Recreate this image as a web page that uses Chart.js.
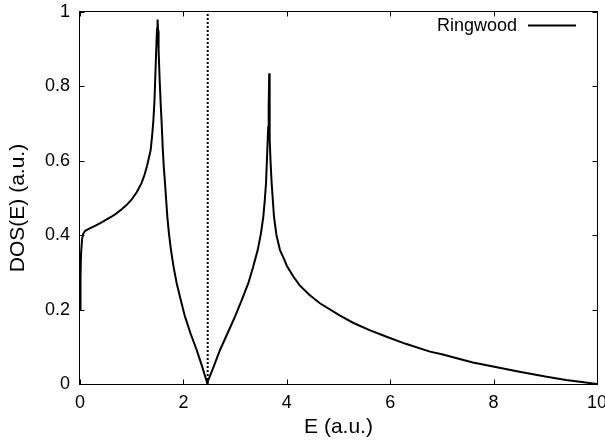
<!DOCTYPE html>
<html><head><meta charset="utf-8">
<script src="https://cdn.jsdelivr.net/npm/chart.js@4/dist/chart.umd.min.js"></script>
<style>html,body{margin:0;padding:0;background:#fff;}#wrap{width:605px;height:441px;}</style>
</head><body><div id="wrap"><canvas id="c" width="605" height="441"></canvas></div>
<script>
const energy = [0.00,0.01,0.02,0.04,0.06,0.10,0.20,0.30,0.40,0.50,0.60,0.70,0.80,0.90,1.00,1.10,1.19,1.25,1.30,1.367,1.40,1.42,1.44,1.46,1.48,1.49,1.50,1.51,1.52,1.54,1.56,1.58,1.60,1.62,1.644,1.689,1.72,1.76,1.81,1.87,1.95,2.031,2.14,2.257,2.36,2.46,2.58,2.708,2.85,2.998,3.13,3.256,3.35,3.437,3.50,3.546,3.575,3.598,3.623,3.64,3.65,3.66,3.665,3.672,3.685,3.707,3.752,3.80,3.868,3.95,4.00,4.126,4.25,4.435,4.64,5.03,5.29,5.60,5.93,6.30,6.77,7.00,7.29,7.60,7.99,8.50,9.00,9.40,9.67,10.0];
const dos = [0.20,0.29,0.35,0.39,0.403,0.412,0.419,0.426,0.433,0.441,0.449,0.458,0.469,0.481,0.496,0.516,0.540,0.563,0.588,0.629,0.675,0.71,0.76,0.84,0.92,0.955,0.98,0.95,0.90,0.82,0.755,0.70,0.635,0.585,0.54,0.45,0.405,0.36,0.315,0.271,0.225,0.181,0.135,0.0914,0.048,0.003,0.045,0.0914,0.135,0.181,0.226,0.271,0.315,0.36,0.405,0.45,0.495,0.54,0.629,0.69,0.75,0.835,0.75,0.66,0.60,0.54,0.45,0.40,0.36,0.335,0.318,0.289,0.265,0.240,0.217,0.184,0.164,0.145,0.127,0.108,0.087,0.080,0.069,0.058,0.047,0.033,0.020,0.011,0.006,0.0];
const fermiX = [2.47, 2.47];
const fermiY = [0, 1];
const xTickValues = [0, 2, 4, 6, 8, 10];
const xTickLabels = ['0', '2', '4', '6', '8', '10'];
const yTickValues = [0, 0.2, 0.4, 0.6, 0.8, 1];
const yTickLabels = ['0', '0.2', '0.4', '0.6', '0.8', '1'];
const seriesLabel = 'Ringwood';
const xTitle = 'E (a.u.)';
const yTitle = 'DOS(E) (a.u.)';

const FONT = "'Liberation Sans', Arial, Helvetica, sans-serif";

const framePlugin = {
  id: 'frame',
  afterDatasetsDraw(chart) {
    const { ctx, chartArea: a, scales: { x, y } } = chart;
    ctx.save();
    ctx.strokeStyle = '#000';
    ctx.lineWidth = 1;
    const L = Math.round(a.left) - 0.5, R = Math.round(a.right) + 0.5;
    const T = Math.round(a.top) - 0.5, B = Math.round(a.bottom) + 0.5;
    ctx.strokeRect(L, T, R - L, B - T);
    ctx.beginPath();
    const tl = 5;
    xTickValues.forEach(v => {
      const px = Math.round(x.getPixelForValue(v)) + 0.5;
      ctx.moveTo(px, B); ctx.lineTo(px, B - tl);
      ctx.moveTo(px, T); ctx.lineTo(px, T + tl);
    });
    yTickValues.forEach(v => {
      const py = Math.round(y.getPixelForValue(v)) + 0.5;
      ctx.moveTo(L, py); ctx.lineTo(L + tl, py);
      ctx.moveTo(R, py); ctx.lineTo(R - tl, py);
    });
    ctx.stroke();
    ctx.restore();
  },
  afterDraw(chart) {
    const { ctx, chartArea: a } = chart;
    ctx.save();
    ctx.fillStyle = '#000';
    ctx.font = '21px ' + FONT;
    ctx.textAlign = 'center';
    ctx.textBaseline = 'middle';
    ctx.fillText(xTitle, (a.left + a.right) / 2, 427);
    ctx.translate(18, 208);
    ctx.rotate(-Math.PI / 2);
    ctx.fillText(yTitle, 0, 0);
    ctx.restore();
    ctx.save();
    const ds = chart.data.datasets[0];
    ctx.font = '18px ' + FONT;
    ctx.fillStyle = '#000';
    ctx.textAlign = 'right';
    ctx.textBaseline = 'alphabetic';
    ctx.fillText(ds.label, a.right - 80, 31);
    ctx.strokeStyle = ds.borderColor;
    ctx.lineWidth = ds.borderWidth;
    ctx.beginPath();
    ctx.moveTo(a.right - 69, 25.5);
    ctx.lineTo(a.right - 21, 25.5);
    ctx.stroke();
    ctx.restore();
  }
};

new Chart(document.getElementById('c'), {
  type: 'scatter',
  data: {
    datasets: [
      {
        label: seriesLabel,
        data: energy.map((e, i) => ({ x: e, y: dos[i] })),
        showLine: true,
        borderColor: '#000',
        borderWidth: 2,
        pointRadius: 0,
        tension: 0,
        fill: false
      },
      {
        label: 'fermi',
        data: fermiX.map((e, i) => ({ x: e, y: fermiY[i] })),
        showLine: true,
        borderColor: '#000',
        borderWidth: 2,
        borderDash: [2, 2],
        pointRadius: 0,
        fill: false
      }
    ]
  },
  options: {
    responsive: false,
    animation: false,
    devicePixelRatio: 1,
    layout: { padding: { top: 12, right: 8, left: 0, bottom: 0 } },
    plugins: { legend: { display: false }, tooltip: { enabled: false }, title: { display: false } },
    scales: {
      x: {
        type: 'linear', min: 0, max: 10,
        afterBuildTicks: s => { s.ticks = xTickValues.map(v => ({ value: v })); },
        afterFit: s => { s.height = 57; s.paddingLeft = 0; s.paddingRight = 0; },
        grid: { display: false, drawTicks: false },
        border: { display: false },
        ticks: {
          autoSkip: false, maxRotation: 0, padding: 8, color: '#000',
          font: { size: 18, family: FONT },
          callback: v => { const i = xTickValues.indexOf(v); return i >= 0 ? xTickLabels[i] : ''; }
        }
      },
      y: {
        type: 'linear', min: 0, max: 1,
        afterBuildTicks: s => { s.ticks = yTickValues.map(v => ({ value: v })); },
        afterFit: s => { s.width = 80; s.paddingTop = 0; s.paddingBottom = 0; },
        grid: { display: false, drawTicks: false },
        border: { display: false },
        ticks: {
          autoSkip: false, padding: 10, color: '#000',
          font: { size: 18, family: FONT },
          callback: v => { const i = yTickValues.findIndex(t => Math.abs(t - v) < 1e-9); return i >= 0 ? yTickLabels[i] : ''; }
        }
      }
    }
  },
  plugins: [framePlugin]
});
</script></body></html>
